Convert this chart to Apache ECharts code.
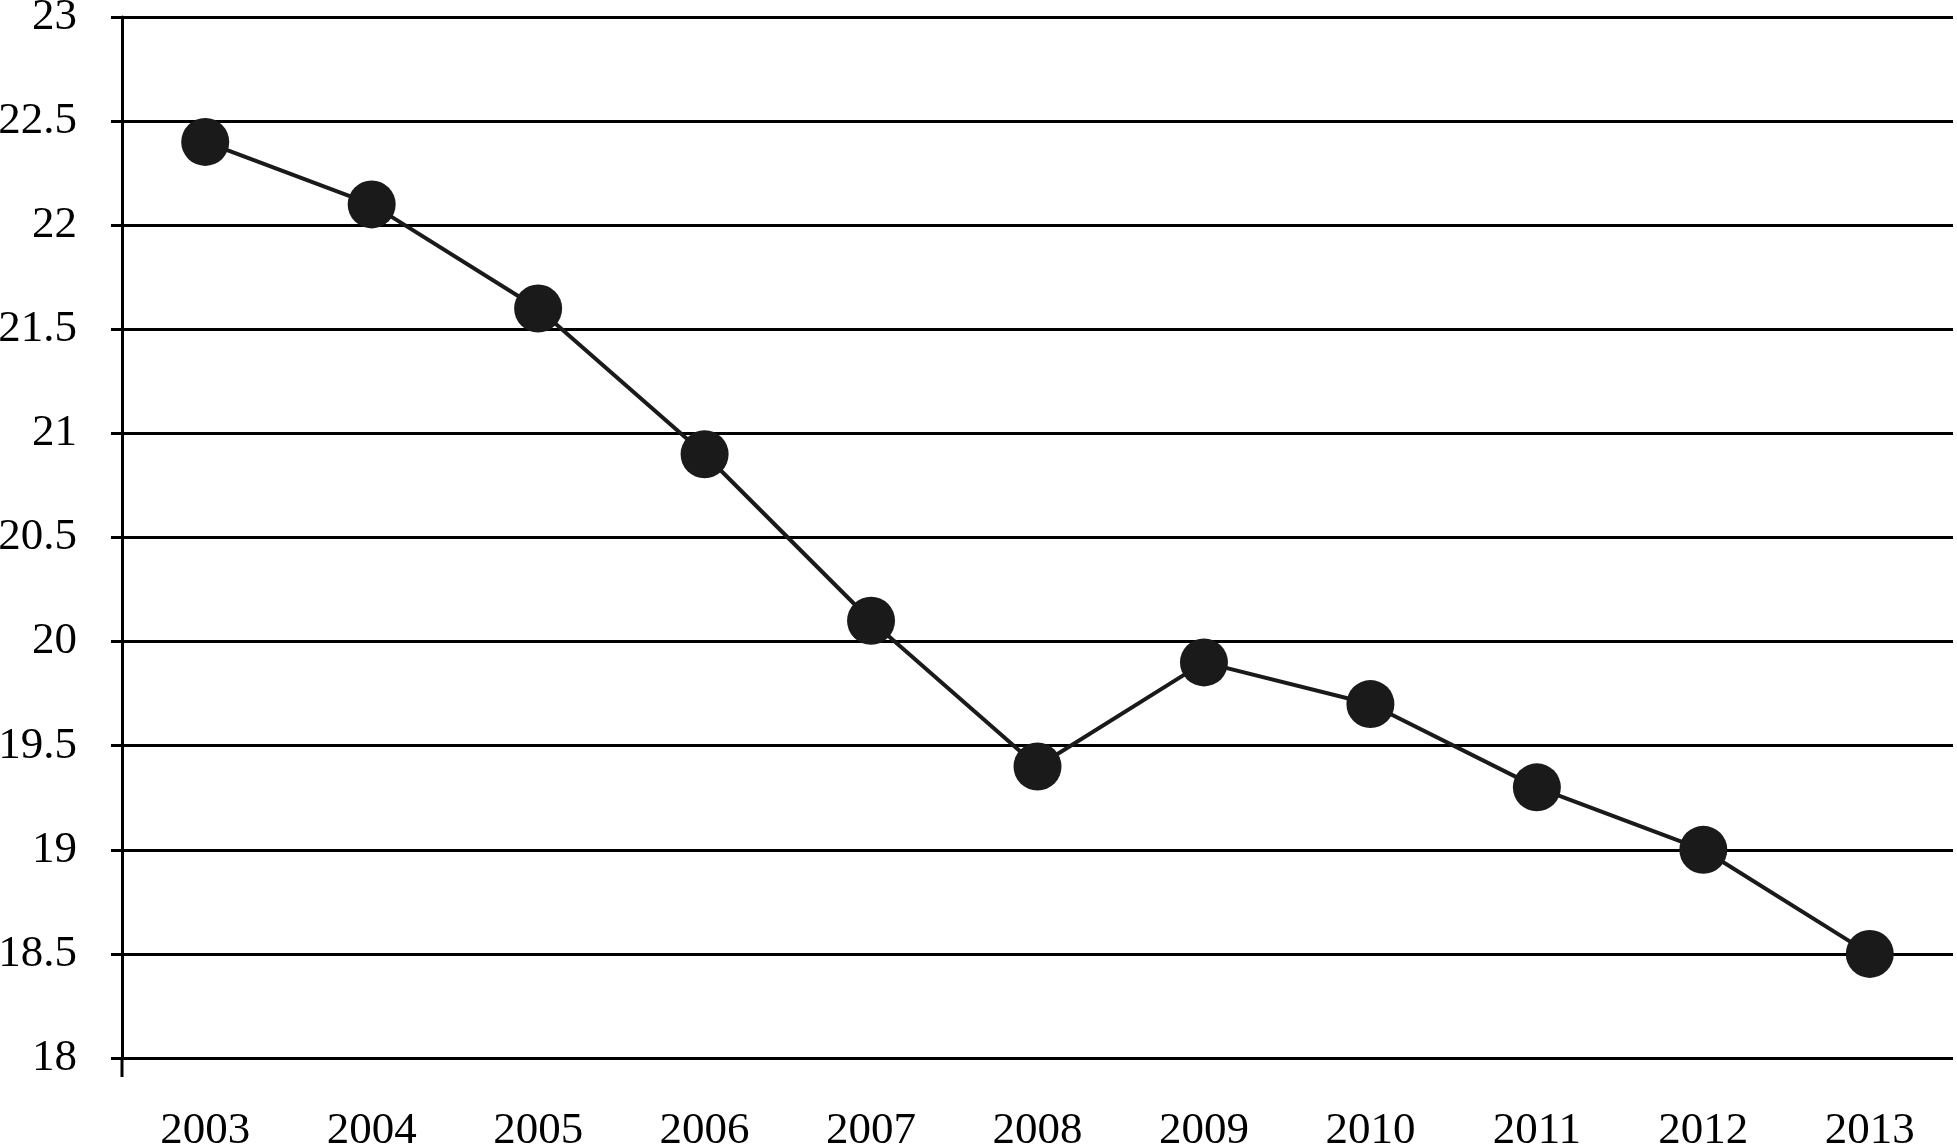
<!DOCTYPE html>
<html>
<head>
<meta charset="utf-8">
<script src="https://cdn.jsdelivr.net/npm/echarts@6/dist/echarts.min.js"></script>
<style>html,body{margin:0;padding:0;background:#fff;}#chart{width:1957px;height:1147px;}</style>
</head>
<body>
<div id="chart"></div>
<script>
const years = ['2003','2004','2005','2006','2007','2008','2009','2010','2011','2012','2013'];
const values = [22.4, 22.1, 21.6, 20.9, 20.1, 19.4, 19.9, 19.7, 19.3, 19.0, 18.5];
const yMin = 18, yMax = 23, yStep = 0.5;

const chart = echarts.init(document.getElementById('chart'), null, {renderer: 'canvas'});
const font = 'Liberation Serif';
chart.setOption({
  animation: false,
  backgroundColor: '#ffffff',
  grid: {left: 122, right: 4, top: 17, bottom: 89, containLabel: false, outerBoundsMode: 'none'},
  xAxis: {
    type: 'category',
    data: years,
    boundaryGap: true,
    axisLine: {show: false},
    axisTick: {show: false},
    splitLine: {show: false},
    axisLabel: {color: '#000', fontFamily: font, fontSize: 45, margin: 51}
  },
  yAxis: {
    type: 'value',
    min: yMin, max: yMax, interval: yStep,
    axisLine: {show: true, lineStyle: {color: '#000', width: 3}},
    axisTick: {show: true, length: 11, lineStyle: {color: '#000', width: 3}},
    splitLine: {show: true, lineStyle: {color: '#000', width: 3}},
    axisLabel: {color: '#000', fontFamily: font, fontSize: 45, margin: 45,
      formatter: v => String(+v.toFixed(1))}
  },
  series: [{
    type: 'line',
    data: values,
    symbol: 'circle',
    symbolSize: 48,
    lineStyle: {color: '#1a1a1a', width: 4},
    itemStyle: {color: '#1a1a1a'},
    z: 5
  }]
});
// extend the y axis line a little below the plot, as in the reference
const rect = chart.getModel().getComponent('grid').coordinateSystem.getRect();
chart.setOption({
  graphic: [{
    type: 'line', silent: true,
    shape: {x1: rect.x, y1: rect.y + rect.height, x2: rect.x, y2: rect.y + rect.height + 19},
    style: {stroke: '#000', lineWidth: 3}
  }]
});
</script>
</body>
</html>
